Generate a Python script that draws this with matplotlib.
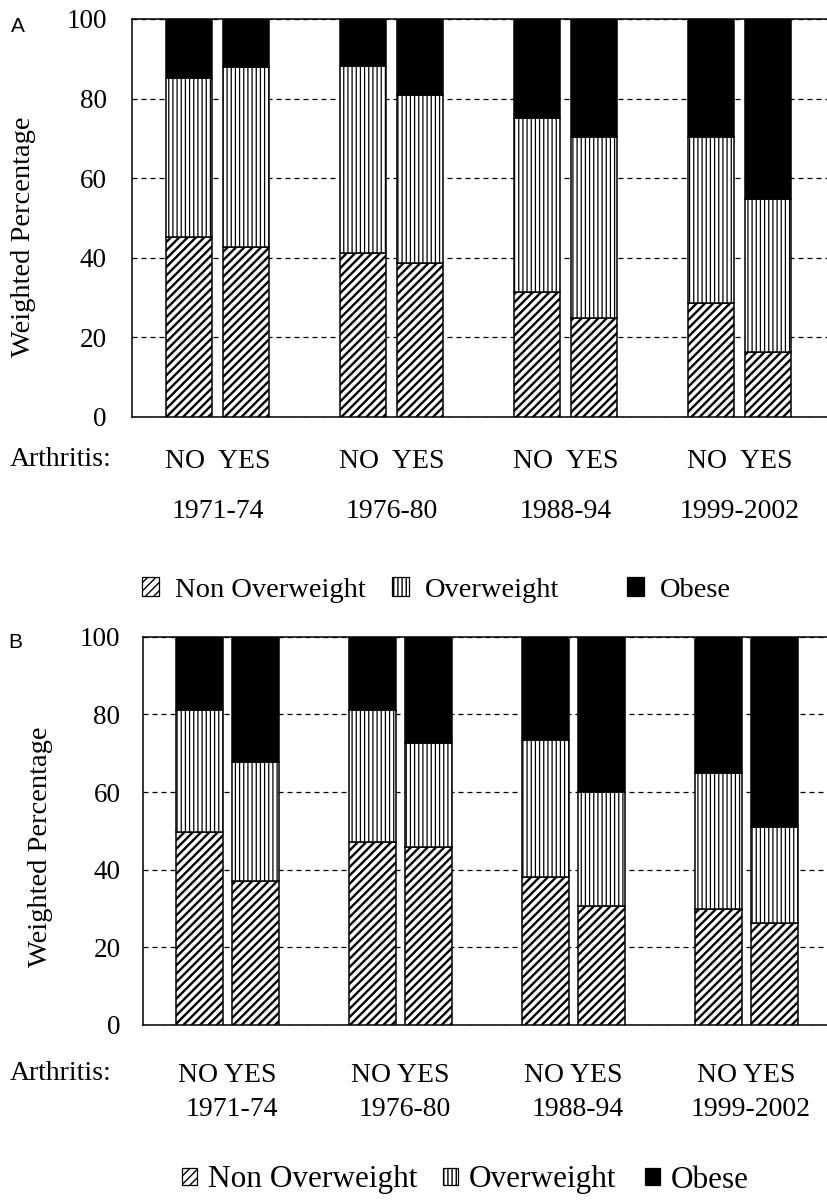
import matplotlib
matplotlib.use("Agg")
import matplotlib.pyplot as plt
import matplotlib.transforms as mtransforms
from matplotlib.patches import Patch
import numpy as np

# ---------------- data ----------------
years = ["1971-74", "1976-80", "1988-94", "1999-2002"]
arthritis = ["NO", "YES"]
categories = ["Non Overweight", "Overweight", "Obese"]

# bar order: (1971-74 NO, 1971-74 YES, 1976-80 NO, 1976-80 YES, ...)
a_non_overweight = [45.2, 42.8, 41.1, 38.8, 31.3, 24.9, 28.6, 16.4]
a_overweight     = [40.1, 45.2, 47.2, 42.1, 43.9, 45.5, 41.8, 38.3]
a_obese          = [14.7, 12.0, 11.7, 19.1, 24.8, 29.6, 29.6, 45.3]

b_non_overweight = [49.6, 37.0, 47.2, 45.9, 38.2, 30.6, 30.0, 26.2]
b_overweight     = [31.4, 30.7, 33.8, 26.7, 35.1, 29.5, 34.8, 24.7]
b_obese          = [19.0, 32.3, 19.0, 27.4, 26.7, 39.9, 35.2, 49.1]

yticks = [0, 20, 40, 60, 80, 100]

# ---------------- style ----------------
SERIF = "Liberation Serif"
SANS = "Liberation Sans"
plt.rcParams["font.family"] = SERIF
plt.rcParams["hatch.color"] = "black"

W, H = 827, 1201
fig = plt.figure(figsize=(W / 100, H / 100), dpi=100)


def fx(px):
    return px / W


def fy(py):
    return 1 - py / H


def panel(rect, non, over, obese, spacing, xlim, width, tickpad, yes_label,
          label_rows_y, arth_y, ylabel_xy, panel_letter, letter_xy):
    ax = fig.add_axes(rect)
    n = len(non)
    idx = np.arange(n)
    x = (idx // 2) * spacing + (idx % 2) - 0.5
    non = np.array(non)
    over = np.array(over)
    obese = np.array(obese)
    styles = [("////", "white", 1.7), ("||||", "white", 0.9), (None, "black", 1.0)]
    bottoms = [np.zeros(n), non, non + over]
    heights = [non, over, obese]
    for (hatch, fc, hlw), b, h in zip(styles, bottoms, heights):
        with plt.rc_context({"hatch.linewidth": hlw}):
            bars = ax.bar(x, h, width=width, bottom=b, color=fc, edgecolor="black",
                          linewidth=1.1, hatch=hatch, zorder=3)
            for r in bars:
                if hasattr(r, "set_hatch_linewidth"):
                    r.set_hatch_linewidth(hlw)
    ax.set_xlim(*xlim)
    ax.set_ylim(0, 100)
    ax.set_yticks(yticks)
    ax.set_yticklabels([str(t) for t in yticks], fontsize=19.5)
    ax.tick_params(axis="y", length=0, pad=tickpad)
    ax.set_xticks([])
    ax.yaxis.grid(True, linestyle=(0, (4, 3.2)), color="black", linewidth=0.9)
    ax.set_axisbelow(True)
    for s in ["top", "left", "bottom"]:
        ax.spines[s].set_linewidth(1.1)
    ax.spines["right"].set_visible(False)

    # category rows
    trans = mtransforms.blended_transform_factory(ax.transData, fig.transFigure)
    centers = np.arange(len(years)) * spacing
    for c, yr in zip(centers, years):
        ax.text(c, fy(label_rows_y[0]), yes_label, transform=trans, ha="center",
                va="center", fontsize=20)
        ax.text(c + label_rows_y[2], fy(label_rows_y[1]), yr, transform=trans,
                ha="center", va="center", fontsize=20)
    fig.text(fx(10), fy(arth_y), "Arthritis:", ha="left", va="center", fontsize=20)
    fig.text(fx(ylabel_xy[0]), fy(ylabel_xy[1]), "Weighted Percentage", rotation=90,
             ha="center", va="center", fontsize=20.5)
    fig.text(fx(letter_xy[0]), fy(letter_xy[1]), panel_letter, ha="left", va="center",
             fontsize=15, family=SANS)
    return ax


panel([fx(132), fy(417), fx(827 - 132), (417 - 19) / H],
      a_non_overweight, a_overweight, a_obese,
      spacing=3.07, xlim=(-1.508, 10.75), width=0.81, tickpad=18,
      yes_label="NO  YES", label_rows_y=(461, 511, 0.0), arth_y=459,
      ylabel_xy=(24, 237), panel_letter="A", letter_xy=(11, 27))

panel([fx(143.3), fy(1025), fx(827 - 143.3), (1025 - 636.7) / H],
      b_non_overweight, b_overweight, b_obese,
      spacing=3.09, xlim=(-1.504, 10.71), width=0.83, tickpad=16.5,
      yes_label="NO YES", label_rows_y=(1076, 1110, 0.08), arth_y=1073,
      ylabel_xy=(41, 847), panel_letter="B", letter_xy=(8, 642))


def legend_item(label, hatch, fc, x_px, y_px, fontsize, hl, pad):
    h = Patch(facecolor=fc, edgecolor="black", hatch=hatch, linewidth=0.9)
    leg = fig.legend([h], [label], loc="center left",
                     bbox_to_anchor=(fx(x_px), fy(y_px)), frameon=False,
                     fontsize=fontsize, handlelength=hl, handleheight=hl,
                     handletextpad=pad, borderpad=0, borderaxespad=0)
    return leg


leg_styles = [("////", "white"), ("||||", "white"), (None, "black")]
# panel A legend
for (hatch, fc), lab, xp in zip(leg_styles, categories, [142, 392, 627]):
    legend_item(lab, hatch, fc, xp, 590, 20.5, 0.6, 0.55)
# panel B legend
for (hatch, fc), lab, xp in zip(leg_styles, categories, [182, 443, 645]):
    legend_item(lab, hatch, fc, xp, 1180, 22.5, 0.48, 0.35)

fig.savefig("out.png", dpi=100)
